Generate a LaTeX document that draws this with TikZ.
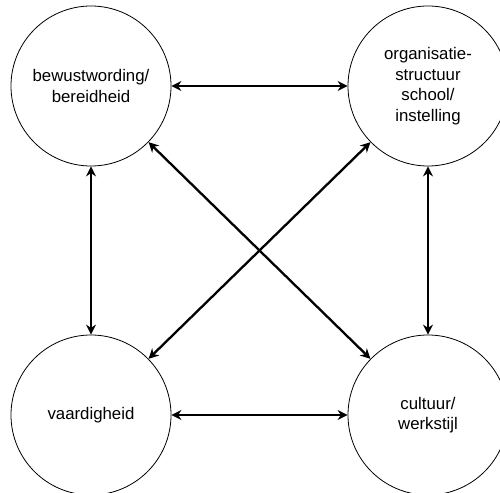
\documentclass[tikz,border=0pt]{standalone}
\usepackage{fontspec}
\setmainfont{Liberation Sans}
\usetikzlibrary{arrows.meta}

\begin{document}
\begin{tikzpicture}[x=1pt,y=-1pt,
        factor/.style={draw, circle, line width=0.8pt, minimum size=160pt, inner sep=0pt, align=center, font=\fontsize{16.8}{20.5}\selectfont},
        link/.style={line width=2.3pt, {Stealth[length=10pt,width=10pt]}-{Stealth[length=10pt,width=10pt]}}]
        \useasboundingbox (0,0) rectangle (500,492);
        \clip (0,0) rectangle (500,492);
        \node[factor] (bew) at (91,86) {bewustwording/\\bereidheid};
        \node[factor] (org) at (428,86) {organisatie-\\structuur\\school/\\instelling};
        \node[factor] (vaa) at (91,415) {vaardigheid};
        \node[factor] (cul) at (428,415) {cultuur/\\werkstijl};
        \foreach \from/\to in {bew/org, vaa/cul, bew/vaa, org/cul, bew/cul, org/vaa}{
            \draw[link] (\from) -- (\to);
        }
    \end{tikzpicture}
\end{document}
